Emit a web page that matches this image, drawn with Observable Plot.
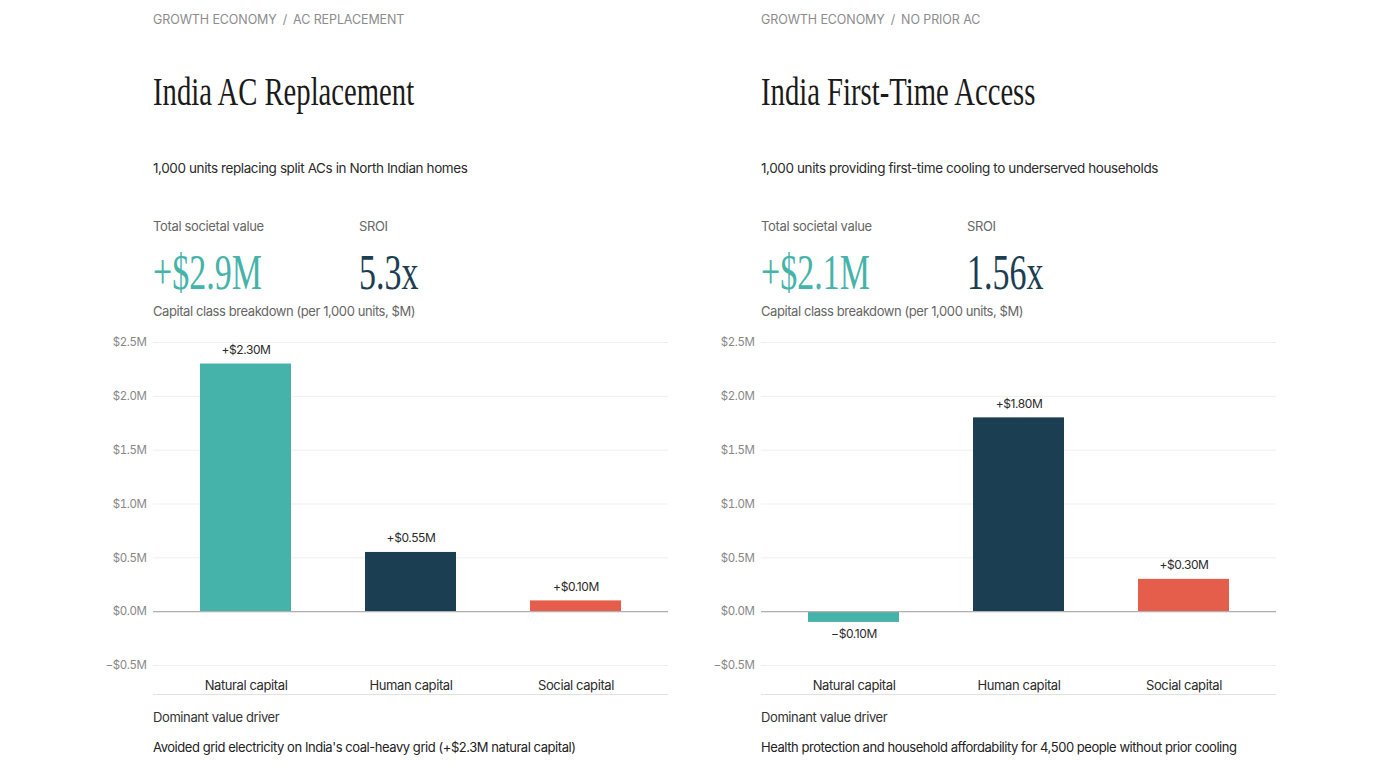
<!DOCTYPE html>
<html>
<head>
<meta charset="utf-8">
<script src="https://cdn.jsdelivr.net/npm/d3@7"></script>
<script src="https://cdn.jsdelivr.net/npm/@observablehq/plot@0.6"></script>
<style>
  html, body { margin: 0; padding: 0; background: #fff; }
  body { width: 1400px; height: 779px; position: relative; overflow: hidden; font-family: Inter, "Noto Sans", sans-serif; }
  .panel { position: absolute; top: 0; width: 580px; height: 779px; }
  .panel > div { position: absolute; left: 53px; white-space: nowrap; }
  .crumb { top: 12px; font-size: 12.5px; line-height: 16px; color: #8c8c8c; letter-spacing: -0.1px; }
  .crumb span { margin: 0 6px; }
  .title { top: 70px; font-family: "Liberation Serif", serif; font-size: 39px; line-height: 44px; color: #1a1a1a; transform: scaleX(0.735); transform-origin: left center; }
  .sub { top: 160px; font-size: 13.5px; line-height: 16px; color: #2b2b2b; letter-spacing: -0.4px; }
  .klabel { top: 218px; font-size: 13px; line-height: 16px; color: #666; letter-spacing: -0.35px; }
  .kval { top: 245px; font-family: "Liberation Serif", serif; font-size: 50px; line-height: 54px; transform: scaleX(0.68); transform-origin: left center; }
  .breakdown { top: 303px; font-size: 13px; line-height: 16px; color: #666; letter-spacing: -0.42px; }
  .chart { top: 325px; left: 0 !important; }
  .baseline { top: 694px; width: 515px; border-top: 1px solid #e2e2e2; }
  .driver { top: 709px; font-size: 13px; line-height: 16px; color: #333; letter-spacing: -0.4px; }
  .desc { top: 739px; font-size: 13px; line-height: 16px; color: #222; letter-spacing: -0.45px; }
</style>
</head>
<body>
<script>
// Capital classes and per-scenario values ($M per 1,000 units)
const categories = ["Natural capital", "Human capital", "Social capital"];
const colors = ["#46b3aa", "#1c3e52", "#e45e4b"];
const yTicks = [-0.5, 0, 0.5, 1.0, 1.5, 2.0, 2.5];

const replacementValues = [2.30, 0.55, 0.10];
const firstTimeValues = [-0.10, 1.80, 0.30];

const scenarios = [
  {
    left: 100,
    crumb: ["GROWTH ECONOMY", "AC REPLACEMENT"],
    title: "India AC Replacement",
    subtitle: "1,000 units replacing split ACs in North Indian homes",
    total: "+$2.9M",
    sroi: "5.3x",
    values: replacementValues,
    driver: "Avoided grid electricity on India's coal-heavy grid (+$2.3M natural capital)"
  },
  {
    left: 708,
    crumb: ["GROWTH ECONOMY", "NO PRIOR AC"],
    title: "India First-Time Access",
    subtitle: "1,000 units providing first-time cooling to underserved households",
    total: "+$2.1M",
    sroi: "1.56x",
    values: firstTimeValues,
    driver: "Health protection and household affordability for 4,500 people without prior cooling"
  }
];

const money = d => (d < 0 ? "\u2212" : "") + "$" + Math.abs(d).toFixed(1) + "M";
const signed = d => (d < 0 ? "\u2212" : "+") + "$" + Math.abs(d).toFixed(2) + "M";

function el(cls, html, parent, style) {
  const d = document.createElement("div");
  d.className = cls;
  d.innerHTML = html;
  if (style) Object.assign(d.style, style);
  parent.appendChild(d);
  return d;
}

for (const s of scenarios) {
  const panel = document.createElement("div");
  panel.className = "panel";
  panel.style.left = s.left + "px";
  document.body.appendChild(panel);

  el("crumb", s.crumb[0] + "<span>/</span>" + s.crumb[1], panel);
  el("title", s.title, panel);
  el("sub", s.subtitle, panel);
  el("klabel", "Total societal value", panel);
  el("klabel", "SROI", panel, {left: "259px"});
  el("kval", s.total, panel, {color: "#46b3aa"});
  el("kval", s.sroi, panel, {color: "#1c3e52", left: "259px"});
  el("breakdown", "Capital class breakdown (per 1,000 units, $M)", panel);

  const data = categories.map((c, i) => ({category: c, value: s.values[i], color: colors[i]}));

  const chart = Plot.plot({
    width: 580,
    height: 375,
    marginLeft: 53,
    marginRight: 12,
    marginTop: 17,
    marginBottom: 35,
    style: {fontFamily: "Inter, sans-serif", background: "transparent", letterSpacing: "-0.4px"},
    x: {domain: categories, paddingInner: 0.45, paddingOuter: 0.28, label: null},
    y: {domain: [-0.5, 2.5], label: null},
    marks: [
      Plot.ruleY(yTicks, {stroke: "#efefef", strokeWidth: 1}),
      Plot.axisY(yTicks, {tickSize: 0, tickPadding: 7, tickFormat: money, fontSize: 11.5, fill: "#888", label: null}),
      Plot.axisX({tickSize: 0, tickPadding: 15, fontSize: 13, fill: "#2b2b2b", label: null}),
      Plot.barY(data, {x: "category", y: "value", fill: "color"}),
      Plot.ruleY([0], {stroke: "#b0b0b0", strokeWidth: 1.2}),
      Plot.text(data.filter(d => d.value >= 0), {x: "category", y: "value", text: d => signed(d.value), dy: -14, fontSize: 12, fill: "#2b2b2b"}),
      Plot.text(data.filter(d => d.value < 0), {x: "category", y: "value", text: d => signed(d.value), dy: 12, fontSize: 12, fill: "#2b2b2b"})
    ]
  });
  const wrap = el("chart", "", panel);
  wrap.appendChild(chart);

  el("baseline", "", panel);
  el("driver", "Dominant value driver", panel);
  el("desc", s.driver, panel);
}
</script>
</body>
</html>
